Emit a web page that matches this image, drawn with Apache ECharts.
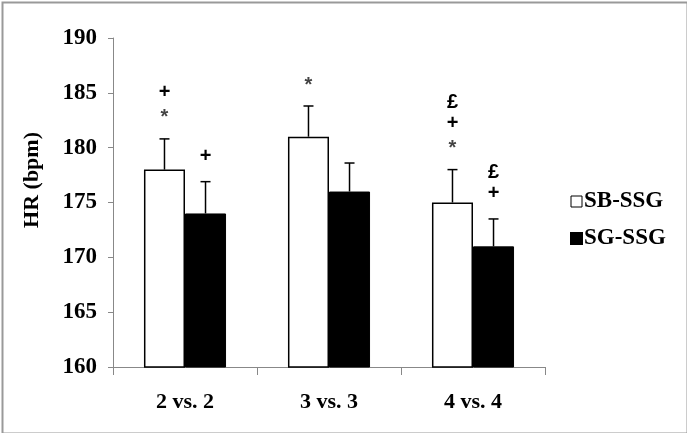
<!DOCTYPE html>
<html>
<head>
<meta charset="utf-8">
<script src="https://cdn.jsdelivr.net/npm/echarts@6/dist/echarts.min.js"></script>
<style>
html,body{margin:0;padding:0;background:#fff;}
#c{width:687px;height:433px;}
</style>
</head>
<body>
<div id="c"></div>
<script>
var categories = ['2 vs. 2', '3 vs. 3', '4 vs. 4'];
var sbValues = [178.0, 181.0, 175.0];
var sgValues = [174.0, 176.0, 171.0];
var sbErrors = [2.8, 2.8, 3.0];
var sgErrors = [2.9, 2.6, 2.5];
var sbMarks = [['*', '+'], ['*'], ['*', '+', '£']];
var sgMarks = [['+'], [], ['+', '£']];
var seriesNames = ['SB-SSG', 'SG-SSG'];
var yTicks = [160, 165, 170, 175, 180, 185, 190];

var FONT = 'Liberation Serif';
var MARK_FONT = 'Liberation Sans';
var CAT_GAP = 0.43;

function errSeries(values, errs, marks, side) {
  var data = values.map(function (v, i) { return [i, v, errs[i]]; });
  return {
    type: 'custom',
    silent: true,
    z: 5,
    data: data,
    encode: { x: 0, y: 1 },
    renderItem: function (params, api) {
      var i = api.value(0), v = api.value(1), e = api.value(2);
      var band = api.size([1, 0])[0];
      var barW = band * (1 - CAT_GAP) / 2;
      var base = api.coord([i, v]);
      var x = base[0] + side * barW / 2;
      var y0 = base[1];
      var y1 = api.coord([i, v + e])[1];
      var cap = 5;
      var children = [
        { type: 'line', shape: { x1: x, y1: y0, x2: x, y2: y1 }, style: { stroke: '#000', lineWidth: 1.5 } },
        { type: 'line', shape: { x1: x - cap, y1: y1, x2: x + cap, y2: y1 }, style: { stroke: '#000', lineWidth: 1.5 } }
      ];
      var m = marks[params.dataIndex] || [];
      m.forEach(function (t, k) {
        var star = t === '*';
        children.push({
          type: 'text',
          style: {
            text: t,
            x: x,
            y: y1 - 25 - k * 21 + (star ? 4 : 0),
            align: 'center',
            verticalAlign: 'middle',
            fontFamily: MARK_FONT,
            fontWeight: 'bold',
            fontSize: star ? 20 : 20,
            fill: star ? '#444' : '#000'
          }
        });
      });
      return { type: 'group', children: children };
    }
  };
}

var chart = echarts.init(document.getElementById('c'), null, { renderer: 'canvas' });
chart.setOption({
  backgroundColor: '#fff',
  animation: false,
  grid: { left: 113, right: 142, top: 38, bottom: 66, containLabel: false },
  legend: {
    orient: 'vertical',
    left: 565,
    top: 185,
    itemGap: 14,
    itemWidth: 11,
    itemHeight: 11,
    selectedMode: false,
    textStyle: { fontFamily: FONT, fontWeight: 'bold', fontSize: 23, color: '#000', padding: [0, 0, 0, -3] },
    data: [
      { name: seriesNames[0], icon: 'rect', itemStyle: { color: '#fff', borderColor: '#000', borderWidth: 1 } },
      { name: seriesNames[1], icon: 'rect', itemStyle: { color: '#000' } }
    ]
  },
  xAxis: {
    type: 'category',
    data: categories,
    axisLine: { lineStyle: { color: '#888', width: 1 } },
    axisTick: { show: true, length: 8, lineStyle: { color: '#888' } },
    axisLabel: { fontFamily: FONT, fontWeight: 'bold', fontSize: 22, color: '#000', margin: 24 }
  },
  yAxis: {
    type: 'value',
    min: yTicks[0],
    max: yTicks[yTicks.length - 1],
    interval: yTicks[1] - yTicks[0],
    axisLine: { show: true, lineStyle: { color: '#888', width: 1 } },
    axisTick: { show: true, length: 5, lineStyle: { color: '#888' } },
    splitLine: { show: false },
    axisLabel: { fontFamily: FONT, fontWeight: 'bold', fontSize: 23, color: '#000', margin: 16 }
  },
  graphic: [
    {
      type: 'rect', left: 0, top: 0, z: 100, silent: true,
      shape: { x: 1, y: 1, width: 685, height: 431 },
      style: { fill: 'none', stroke: '#999', lineWidth: 2 }
    },
    {
      type: 'text', left: 21, top: 132, rotation: Math.PI / 2, silent: true,
      style: { text: 'HR (bpm)', fontFamily: FONT, fontWeight: 'bold', fontSize: 22, fill: '#000' }
    }
  ],
  series: [
    {
      name: seriesNames[0], type: 'bar', data: sbValues, barGap: '0%', barCategoryGap: (CAT_GAP * 100) + '%',
      itemStyle: { color: '#fff', borderColor: '#000', borderWidth: 1.5 }
    },
    {
      name: seriesNames[1], type: 'bar', data: sgValues, barGap: '0%', barCategoryGap: (CAT_GAP * 100) + '%',
      itemStyle: { color: '#000', borderColor: '#000', borderWidth: 1 }
    },
    errSeries(sbValues, sbErrors, sbMarks, -1),
    errSeries(sgValues, sgErrors, sgMarks, 1)
  ]
});
</script>
</body>
</html>
